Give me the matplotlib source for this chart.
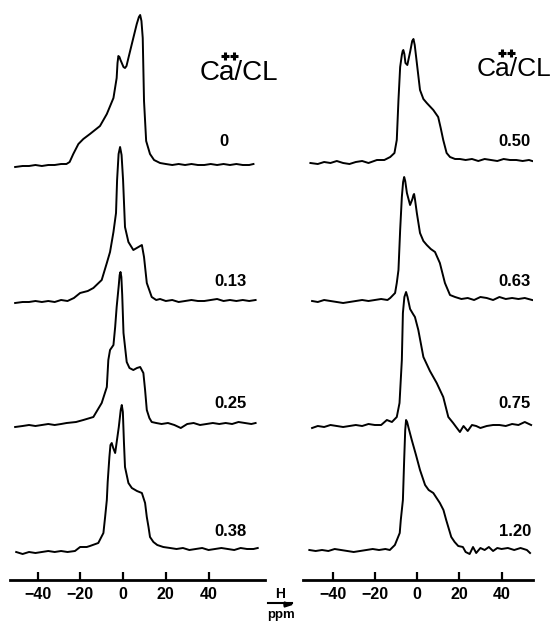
import matplotlib
matplotlib.use("Agg")
import matplotlib.pyplot as plt

plt.rcParams['font.family'] = ['Liberation Sans', 'DejaVu Sans']

# spectra: ppm positions and heights above own baseline
ppm_0 = [-50.5, -47, -44, -41, -38, -35, -32, -29, -26.5, -25, -23.3, -20.9, -18.6, -15.5, -10.8, -7.6,
         -4.5, -3.0, -2.6, -2.2, -1.7, -1.2, 0.2, 0.9, 1.6, 2.5, 4.1, 6.4, 7.4, 8.0, 8.6, 9.2, 9.8,
         10.8, 12.6, 14.5, 17.3, 20, 23, 26, 29, 32, 35, 38, 41, 44, 47, 50, 53, 56, 59, 61]
h_0 = [-1, 0, 0, 1, 0, 1, 1, 2, 2, 4, 12, 22, 27, 32, 40, 52, 68, 88, 103, 110, 109, 106, 99, 98,
       100, 108, 122, 142, 149, 151, 145, 128, 65, 25, 12, 6, 3, 2, 1, 2, 1, 2, 1, 1, 2, 1, 2, 1,
       2, 1, 1, 2]

ppm_013 = [-50.5, -47, -44, -41, -38, -35, -32, -29, -26, -23, -20.1, -16.5, -13.9, -10, -7.6, -6.1,
           -4.5, -3.3, -2.8, -2.1, -1.4, -0.7, 0.0, 0.9, 2.5, 4.8, 7.2, 8.8, 9.8, 11.1, 13.4, 15.5,
           17.3, 20, 23, 26, 29, 32, 35, 38, 41, 44, 47, 50, 53, 56, 59, 62]
h_013 = [-1, 0, 0, 1, 0, 1, 0, 2, 1, 4, 9, 11, 14, 22, 39, 50, 70, 89, 122, 148, 155, 147, 122, 75,
         60, 52, 55, 57, 45, 19, 5, 2, 3, 1, 2, 0, 1, 2, 1, 1, 2, 3, 1, 2, 1, 2, 1, 2]

ppm_025 = [-50.5, -47, -44, -41, -38, -35, -32, -29, -26.4, -22, -18.6, -13.9, -10, -7.6, -6.9, -6.1,
           -4.5, -3.7, -3.0, -2.0, -1.6, -1.2, -0.8, -0.4, 0.2, 1.7, 3.0, 4.8, 6.5, 8.0, 9.5, 10.3,
           11.1, 12.3, 13.4, 15.5, 18, 21, 24, 27, 30, 33, 36, 39, 42, 45, 48, 51, 54, 57, 60, 62]
h_025 = [-2, -1, 0, -1, 0, 1, 0, 1, 2, 3, 5, 8, 22, 38, 65, 75, 80, 98, 118, 140, 150, 153, 148, 130,
         92, 63, 57, 55, 57, 58, 52, 35, 15, 7, 3, 2, 1, 2, 0, -3, 1, 2, 0, 1, 2, 1, 2, 1, 3, 2, 1, 2]

ppm_038 = [-50, -47, -44, -41, -38, -35, -32, -29, -26, -22.5, -20.1, -17, -15.5, -11.6, -9.2, -8.4,
           -7.6, -7.2, -6.4, -5.9, -5.3, -4.6, -3.7, -2.0, -1.1, -0.6, -0.1, 0.4, 0.9, 2.5, 4.1, 6.5,
           8.8, 10.3, 11.1, 11.9, 12.6, 14.2, 16, 18.8, 22, 25, 28, 31, 34, 37, 40, 43, 46, 49, 52,
           55, 58, 61, 63]
h_038 = [0, -2, 0, -1, 0, 1, 0, 1, 0, 1, 5, 5, 6, 9, 19, 35, 52, 70, 95, 107, 109, 104, 99, 125, 142,
         147, 140, 110, 85, 69, 64, 61, 59, 49, 35, 25, 15, 10, 7, 5, 4, 3, 4, 2, 3, 4, 2, 3, 4, 3,
         2, 4, 3, 3, 4]

ppm_050 = [-50.5, -47, -44, -41, -38, -35, -32, -29, -26, -23, -19, -15.5, -12.7, -10.7, -9.6, -8.8,
           -8.0, -7.2, -6.8, -6.5, -6.0, -5.5, -4.6, -3.2, -2.3, -1.7, -1.1, -0.1, 1.4, 3.0, 4.6, 7.7,
           10.0, 11.2, 12.4, 14.0, 15.6, 18, 20.3, 23, 26, 29, 32, 35, 38, 41, 44, 47, 50, 53, 54.5]
h_050 = [0, -1, 1, 0, 2, 0, -1, 1, 2, 0, 3, 3, 6, 10, 23, 63, 96, 108, 112, 113, 109, 100, 98, 112,
         122, 124, 118, 100, 73, 64, 60, 53, 46, 35, 23, 10, 6, 4, 4, 3, 4, 2, 4, 3, 2, 4, 3, 3, 2,
         3, 2]

ppm_063 = [-49.7, -47, -44, -41, -38, -35, -32, -29, -26, -23, -20, -17, -14, -12.7, -10.4, -9.6,
           -8.8, -8.0, -7.2, -6.6, -6.1, -5.6, -4.8, -3.3, -2.2, -1.7, -1.4, -1.0, -0.1, 1.4, 3.0,
           4.6, 6.5, 8.5, 10.8, 12.0, 13.2, 15.6, 18, 21, 24, 27, 30, 33, 36, 39, 42, 45, 48, 51, 54.5]
h_063 = [0, -1, 1, 0, -1, -2, -1, 0, 1, 0, 1, 2, 1, 3, 8, 18, 31, 71, 104, 119, 124, 120, 108, 96,
         102, 106, 107, 102, 88, 68, 60, 56, 52, 49, 38, 28, 18, 6, 4, 2, 3, 1, 4, 3, 1, 4, 2, 3, 2,
         3, 1]

ppm_075 = [-49.7, -47, -44, -41, -38, -35, -32, -29, -26, -23, -20, -17, -14.3, -11.9, -9.6, -8.3,
           -7.2, -6.7, -6.0, -5.2, -4.5, -3.3, -1.9, -1.0, 0.6, 3.0, 6.1, 9.3, 12.4, 13.6, 14.8, 17.1,
           18.5, 20.3, 22, 24, 26, 28, 30, 33, 36, 39, 42, 45, 48, 51, 54]
h_075 = [-1, 1, 0, 2, 1, 0, 1, 2, 1, 3, 2, 2, 7, 5, 10, 24, 67, 114, 130, 135, 130, 118, 113, 110,
         97, 70, 56, 44, 30, 20, 10, 4, 0, -5, 1, -4, 2, 1, -1, 1, 2, 2, 1, 3, 2, 5, 2]

ppm_120 = [-51, -48, -45, -42, -39, -36, -33, -30, -27, -24, -21, -18, -15, -12.9, -10.5, -8.2, -7.7,
           -6.7, -6.1, -5.6, -5.2, -4.7, -4.0, -2.5, -0.5, 1.4, 3.8, 5.5, 7.7, 10.8, 12.5, 13.8, 16.2,
           17.8, 19.5, 21.7, 23, 24.9, 26.5, 28, 30, 32, 34, 36, 38, 40, 43, 46, 49, 52, 53.5]
h_120 = [0, -1, 0, -1, 1, 0, -1, -2, -1, 0, 1, 0, 1, 0, 5, 17, 30, 50, 90, 120, 130, 128, 122, 110,
         95, 80, 65, 60, 57, 47, 40, 30, 13, 8, 4, 3, -2, -4, 3, -3, 2, 0, 3, -1, 2, 1, 2, 0, 2, 0, -3]

ratios_left = ["0", "0.13", "0.25", "0.38"]
ratios_right = ["0.50", "0.63", "0.75", "1.20"]
ticks = [-40, -20, 0, 20, 40]
tick_labels = ["\u221240", "\u221220", "0", "20", "40"]

W, H = 553, 623
fig = plt.figure(figsize=(W / 100, H / 100), dpi=100)

# axes in pixel units: bottom spine at y=580 px from top
def make_ax(x0, x1, xlim):
    ax = fig.add_axes([x0 / W, (H - 580) / H, (x1 - x0) / W, 580 / H])
    ax.set_xlim(*xlim)
    ax.set_ylim(0, 580)
    for s in ["left", "right", "top"]:
        ax.spines[s].set_visible(False)
    ax.spines["bottom"].set_linewidth(2.0)
    ax.set_yticks([])
    ax.set_xticks(ticks)
    ax.set_xticklabels(tick_labels, fontsize=11.5, fontweight="bold")
    ax.tick_params(axis="x", direction="in", length=6, width=1.6, pad=5)
    ax.patch.set_visible(False)
    return ax

axL = make_ax(10, 265, (-52.9, 66.4))
axR = make_ax(303, 533, (-54.0, 54.9))

left_sets = [(ppm_0, h_0), (ppm_013, h_013), (ppm_025, h_025), (ppm_038, h_038)]
right_sets = [(ppm_050, h_050), (ppm_063, h_063), (ppm_075, h_075), (ppm_120, h_120)]
base_left = [166, 302, 425, 552]
base_right = [163, 301, 427, 550]
lab_y = [142, 282, 404, 532]

for (p, h), b, lab, ly in zip(left_sets, base_left, ratios_left, lab_y):
    off = 580 - b
    axL.plot(p, [v + off for v in h], color="black", lw=1.4, solid_joinstyle="round")
    axL.text(47.3 if lab == "0" else 50.2, 580 - ly, lab, ha="center", va="center",
             fontsize=12, fontweight="bold")

for (p, h), b, lab, ly in zip(right_sets, base_right, ratios_right, lab_y):
    off = 580 - b
    axR.plot(p, [v + off for v in h], color="black", lw=1.4, solid_joinstyle="round")
    axR.text(46.3, 580 - ly, lab, ha="center", va="center", fontsize=12, fontweight="bold")

def ftext(x, y, s, **kw):
    fig.text(x / W, 1 - y / H, s, ha="center", va="center", **kw)

# headers, with the "++" charge drawn as bold plus marks above the "a"
ftext(238.5, 73, "Ca/CL", fontsize=20)
ftext(514, 69, "Ca/CL", fontsize=19)
for px, py in [(225, 56), (234, 56), (502, 53), (511, 53)]:
    fig.add_artist(plt.Line2D([px / W], [1 - py / H], marker="+", markersize=6,
                              color="black", markeredgewidth=2.2, linestyle="none"))

# H -> ppm unit marker
ftext(280, 594, "H", fontsize=10, fontweight="bold")
fig.add_artist(plt.Line2D([268 / W, 292 / W], [1 - 603 / H, 1 - 603 / H], color="black", lw=1.5))
fig.patches.append(matplotlib.patches.FancyArrow(284 / W, 1 - 604.5 / H, 8 / W, 0, width=0.002,
                                                 head_width=0.008, head_length=0.014,
                                                 color="black", transform=fig.transFigure,
                                                 figure=fig, length_includes_head=True))
ftext(281, 615, "ppm", fontsize=9.5, fontweight="bold")

fig.savefig("out.png", dpi=100)
